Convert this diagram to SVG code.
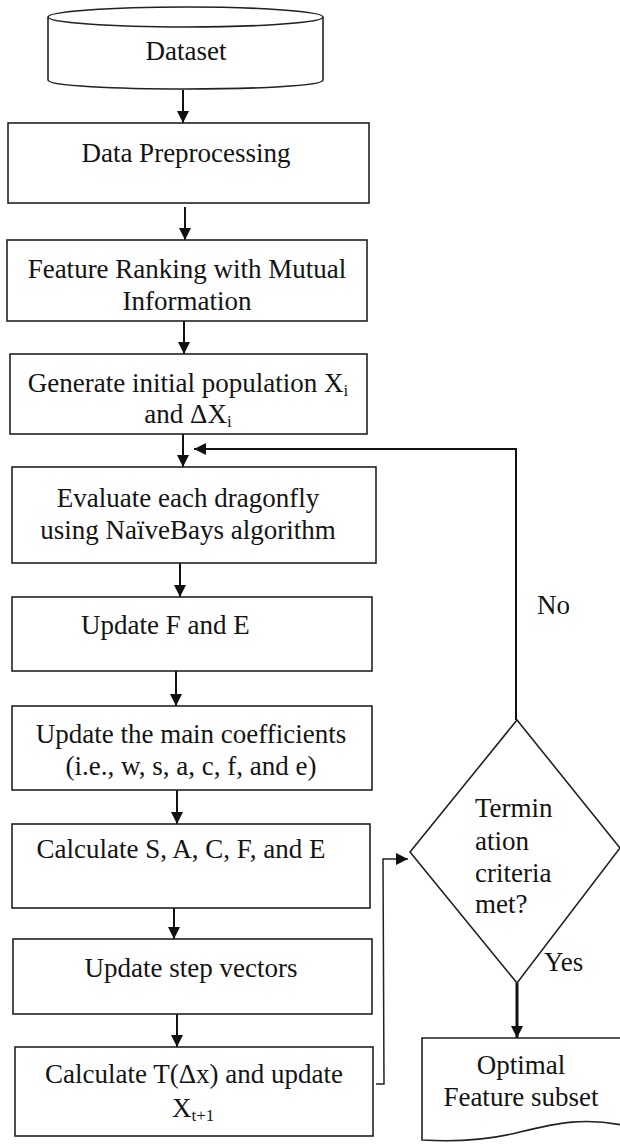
<svg xmlns="http://www.w3.org/2000/svg" width="620" height="1144" viewBox="0 0 620 1144">
<defs>
<style>
.box{fill:#fff;stroke:#222;stroke-width:1.6}
.ln{fill:none;stroke:#111;stroke-width:2}
.thin{fill:none;stroke:#222;stroke-width:1.5}
.t{font-family:"Liberation Serif","Times New Roman",serif;font-size:27px;fill:#141414}
.c{text-anchor:middle}
.sub{font-size:17px}
</style>
<marker id="ah" viewBox="0 0 10 10" refX="10" refY="5" markerWidth="12" markerHeight="12" markerUnits="userSpaceOnUse" orient="auto">
<path d="M0,0 L10,5 L0,10 Z" fill="#111"/>
</marker>
</defs>
<rect width="620" height="1144" fill="#fff"/>

<g id="connectors">
<line class="ln" x1="183" y1="90" x2="183" y2="123" marker-end="url(#ah)"/>
<line class="ln" x1="185" y1="207" x2="185" y2="240" marker-end="url(#ah)"/>
<line class="ln" x1="184" y1="321" x2="184" y2="354" marker-end="url(#ah)"/>
<line class="ln" x1="183" y1="434" x2="183" y2="467" marker-end="url(#ah)"/>
<polyline class="ln" points="516,720 516,449 194,449" marker-end="url(#ah)"/>
<line class="ln" x1="180" y1="563" x2="180" y2="597" marker-end="url(#ah)"/>
<line class="ln" x1="176" y1="671" x2="176" y2="706" marker-end="url(#ah)"/>
<line class="ln" x1="177" y1="790" x2="177" y2="824" marker-end="url(#ah)"/>
<line class="ln" x1="174" y1="908" x2="174" y2="939" marker-end="url(#ah)"/>
<line class="ln" x1="177" y1="1014" x2="177" y2="1047" marker-end="url(#ah)"/>
<polyline class="thin" points="376,1084 384,1084 383,859 408,859" marker-end="url(#ah)"/>
<line x1="517" y1="983" x2="517" y2="1038" stroke="#111" stroke-width="3" marker-end="url(#ah)"/>
<text class="t" x="537" y="614">No</text>
<text class="t" x="544" y="971">Yes</text>
</g>

<g id="dataset">
<path class="box" d="M48,17 V80 C48,92 323,92 323,80 V17"/>
<ellipse class="box" cx="185.5" cy="17" rx="137.5" ry="10"/>
<text class="t c" x="186" y="60">Dataset</text>
</g>

<g id="preprocessing">
<rect class="box" x="8" y="123" width="361" height="80"/>
<text class="t c" x="186" y="162">Data Preprocessing</text>
</g>

<g id="ranking">
<rect class="box" x="7" y="240" width="360" height="81"/>
<text class="t c" x="187" y="278">Feature Ranking with Mutual</text>
<text class="t c" x="187" y="310">Information</text>
</g>

<g id="generate">
<rect class="box" x="10" y="354" width="357" height="80"/>
<text class="t c" x="188" y="392">Generate initial population X<tspan class="sub" dy="4">i</tspan></text>
<text class="t c" x="188" y="423">and ΔX<tspan class="sub" dy="4">i</tspan></text>
</g>

<g id="evaluate">
<rect class="box" x="12" y="467" width="364" height="96"/>
<text class="t c" x="188" y="507">Evaluate each dragonfly</text>
<text class="t c" x="188" y="539">using NaïveBays algorithm</text>
</g>

<g id="updateFE">
<rect class="box" x="12" y="597" width="360" height="74"/>
<text class="t" x="81" y="634">Update F and E</text>
</g>

<g id="coefficients">
<rect class="box" x="12" y="706" width="360" height="84"/>
<text class="t c" x="191" y="743">Update the main coefficients</text>
<text class="t c" x="191" y="775">(i.e., w, s, a, c, f, and e)</text>
</g>

<g id="calcSACFE">
<rect class="box" x="12" y="824" width="358" height="84"/>
<text class="t c" x="181" y="858">Calculate S, A, C, F, and E</text>
</g>

<g id="stepvectors">
<rect class="box" x="13" y="939" width="359" height="75"/>
<text class="t c" x="191" y="977">Update step vectors</text>
</g>

<g id="calcT">
<rect class="box" x="15" y="1047" width="358" height="89"/>
<text class="t c" x="194" y="1083">Calculate T(Δx) and update</text>
<text class="t" x="172" y="1117">X<tspan class="sub" dy="4">t+1</tspan></text>
</g>

<g id="termination">
<polygon class="box" points="517,720 620,848 517,983 410,852"/>
<text class="t" x="475" y="817">Termin</text>
<text class="t" x="475" y="850">ation</text>
<text class="t" x="475" y="882">criteria</text>
<text class="t" x="475" y="913">met?</text>
</g>

<g id="optimal">
<path class="box" d="M422,1038 H622 V1125 C585,1118 560,1122 520,1132 C485,1141 455,1142 422,1140 Z"/>
<text class="t c" x="521" y="1074">Optimal</text>
<text class="t c" x="521" y="1106">Feature subset</text>
</g>
</svg>
